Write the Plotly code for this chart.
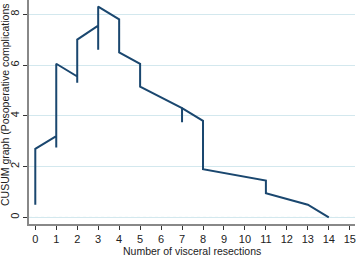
import plotly.graph_objects as go

# CUSUM path (vertical segments have repeated x)
x_vals = [0, 0, 1, 1, 1, 2, 2, 2, 3, 3, 3, 4, 4, 5, 5, 7, 7, 7, 8, 8, 11, 11, 13, 14]
y_vals = [0.5, 2.7, 3.2, 2.75, 6.05, 5.55, 5.3, 7.0, 7.55, 6.6, 8.3, 7.8, 6.5, 6.05, 5.15,
          4.3, 3.75, 4.3, 3.8, 1.9, 1.45, 0.95, 0.5, 0.0]
x_ticks = list(range(0, 16))
y_ticks = [0, 2, 4, 6, 8]

W, H = 358, 257
ml, mr, mt, mb = 29, 3, 0, 33
ph = H - mt - mb
pw = W - ml - mr

fig = go.Figure()
fig.add_trace(go.Scatter(x=x_vals, y=y_vals, mode="lines",
                         line=dict(color="#1a476f", width=2), showlegend=False))

font = dict(family="Liberation Sans, Arial, sans-serif", size=11, color="#222")

fig.update_layout(
    width=W, height=H,
    margin=dict(l=ml, r=mr, t=mt, b=mb),
    paper_bgcolor="white", plot_bgcolor="white",
    font=font,
    xaxis=dict(range=[-0.3, 15.25], tickvals=x_ticks, ticks="outside", ticklen=4,
               tickcolor="#333", showline=True, linecolor="#888", linewidth=1.5,
               showgrid=False, zeroline=False, tickfont=dict(size=11),
               ticklabeloverflow="allow", automargin=False),
    yaxis=dict(range=[-0.26, 8.56], tickvals=y_ticks, ticks="outside", ticklen=4,
               tickcolor="#333", showline=True, linecolor="#888", linewidth=1.5,
               showgrid=True, gridcolor="#d3e8ee", gridwidth=1, zeroline=False,
               tickangle=-90, tickfont=dict(size=11), automargin=False),
)

# dotted baseline gridline at the lowest tick
fig.add_shape(type="line", xref="paper", yref="y", x0=0, x1=1, y0=y_ticks[0], y1=y_ticks[0],
              line=dict(color="white", width=1.5), layer="below")
fig.add_shape(type="line", xref="paper", yref="y", x0=0, x1=1, y0=y_ticks[0], y1=y_ticks[0],
              line=dict(color="#c8dde3", width=1, dash="dot"), layer="below")

fig.add_annotation(text="CUSUM graph (Posoperative complications", textangle=-90,
                   xref="paper", yref="paper", x=(4.5 - ml) / pw, y=(H - mb - 208) / ph,
                   xanchor="center", yanchor="bottom", showarrow=False,
                   font=dict(size=10.5))
fig.add_annotation(text="Number of visceral resections",
                   xref="paper", yref="paper", x=0.5, y=(H - mb - 251) / ph,
                   xanchor="center", yanchor="middle", showarrow=False,
                   font=dict(size=10.5))

fig.write_html("out.html", config={"displayModeBar": False},
               post_script="document.body.style.margin='0';")
